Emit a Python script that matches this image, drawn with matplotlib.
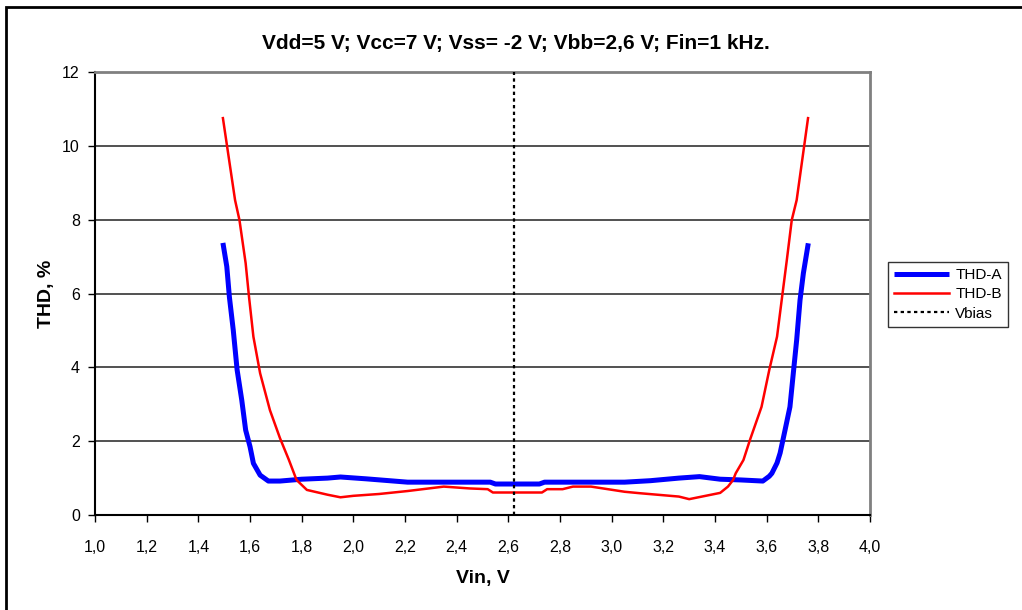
import matplotlib.pyplot as plt
from matplotlib.patches import Rectangle
from matplotlib.ticker import FuncFormatter

plt.rcParams['font.family'] = ['Liberation Sans', 'DejaVu Sans']

# data
vin_a = [1.495, 1.51, 1.52, 1.535, 1.55, 1.568, 1.583, 1.60, 1.613, 1.639, 1.671,
         1.716, 1.80, 1.90, 1.95, 2.05, 2.21, 2.30, 2.40, 2.53, 2.55, 2.72, 2.74, 2.85,
         3.05, 3.15, 3.26, 3.34, 3.42, 3.50, 3.585, 3.61, 3.62, 3.64, 3.652, 3.671, 3.69,
         3.703, 3.716, 3.729, 3.742, 3.761]
thd_a = [7.37, 6.73, 5.91, 5.01, 3.93, 3.11, 2.30, 1.85, 1.40, 1.08, 0.92,
         0.92, 0.97, 1.00, 1.03, 0.98, 0.89, 0.89, 0.89, 0.89, 0.84, 0.84, 0.89, 0.89,
         0.89, 0.93, 1.00, 1.04, 0.97, 0.95, 0.92, 1.05, 1.13, 1.41, 1.68, 2.30, 2.93,
         3.84, 4.74, 5.82, 6.55, 7.36]

vin_b = [1.495, 1.542, 1.559, 1.583, 1.596, 1.613, 1.639, 1.677, 1.716, 1.75, 1.78, 1.82,
         1.90, 1.95, 2.00, 2.10, 2.21, 2.35, 2.45, 2.52, 2.54, 2.73, 2.75, 2.81, 2.85,
         2.92, 3.05, 3.11, 3.26, 3.30, 3.42, 3.45, 3.47, 3.48, 3.51, 3.535, 3.58, 3.61,
         3.64, 3.658, 3.678, 3.697, 3.716, 3.76]
thd_b = [10.75, 8.53, 7.99, 6.82, 5.91, 4.83, 3.84, 2.84, 2.08, 1.50, 0.95, 0.68,
         0.55, 0.48, 0.52, 0.57, 0.65, 0.77, 0.72, 0.70, 0.61, 0.61, 0.70, 0.70, 0.77,
         0.77, 0.63, 0.59, 0.50, 0.43, 0.60, 0.77, 0.95, 1.13, 1.49, 2.03, 2.93, 3.93,
         4.83, 5.82, 6.91, 7.99, 8.53, 10.75]

v_bias = 2.622

fig = plt.figure(figsize=(10.22, 6.10), dpi=100)
ax = fig.add_axes([0.093, 0.1557, 0.7583, 0.7263])

for y in [2, 4, 6, 8, 10]:
    ax.axhline(y, color='#222222', lw=1.1, zorder=1)

ax.plot(vin_a, thd_a, color='#0000ff', lw=3.6, label='THD-A', zorder=3,
        solid_joinstyle='round', solid_capstyle='butt')
ax.plot(vin_b, thd_b, color='#ff0000', lw=1.8, label='THD-B', zorder=4,
        solid_joinstyle='round')
ax.plot([v_bias, v_bias], [0, 12], color='black', lw=1.6, linestyle=(0, (1.5, 1.5)),
        label='Vbias', zorder=5)

ax.set_xlim(1.0, 4.0)
ax.set_ylim(0, 12)
ax.set_xticks([1.0 + 0.2 * i for i in range(16)])
ax.set_yticks(range(0, 13, 2))
ax.xaxis.set_major_formatter(FuncFormatter(lambda v, p: ('%.1f' % v).replace('.', ',')))
ax.tick_params(labelsize=11.5, direction='out', length=5, width=1, color='black', pad=6)
ax.tick_params(axis='x', pad=13)

ax.spines['left'].set_color('black')
ax.spines['left'].set_linewidth(1.5)
ax.spines['bottom'].set_color('black')
ax.spines['bottom'].set_linewidth(1.5)
ax.spines['top'].set_color('#808080')
ax.spines['top'].set_linewidth(2)
ax.spines['right'].set_color('#808080')
ax.spines['right'].set_linewidth(2)

ax.set_xlabel('Vin, V', fontsize=14, fontweight='bold', labelpad=11)
ax.set_ylabel('THD, %', fontsize=14, fontweight='bold', labelpad=5)

fig.text(516 / 1022, 1 - 44 / 610, 'Vdd=5 V; Vcc=7 V; Vss= -2 V; Vbb=2,6 V; Fin=1 kHz.',
         ha='center', va='center', fontsize=15, fontweight='bold')

leg = ax.legend(loc='upper left', bbox_to_anchor=(888 / 1022, 1 - 262 / 610),
                bbox_transform=fig.transFigure, frameon=True, fancybox=False,
                edgecolor='black', fontsize=11, handlelength=3.6, borderpad=0.4,
                labelspacing=0.35, handletextpad=0.4, borderaxespad=0)
leg.get_frame().set_linewidth(1.0)

# outer chart frame
fig.patches.append(Rectangle((6 / 1022, -0.1), 1.2, 1 - 7 / 610 + 0.1,
                             transform=fig.transFigure, fill=False,
                             edgecolor='black', lw=2))

fig.savefig('out.png', dpi=100)
